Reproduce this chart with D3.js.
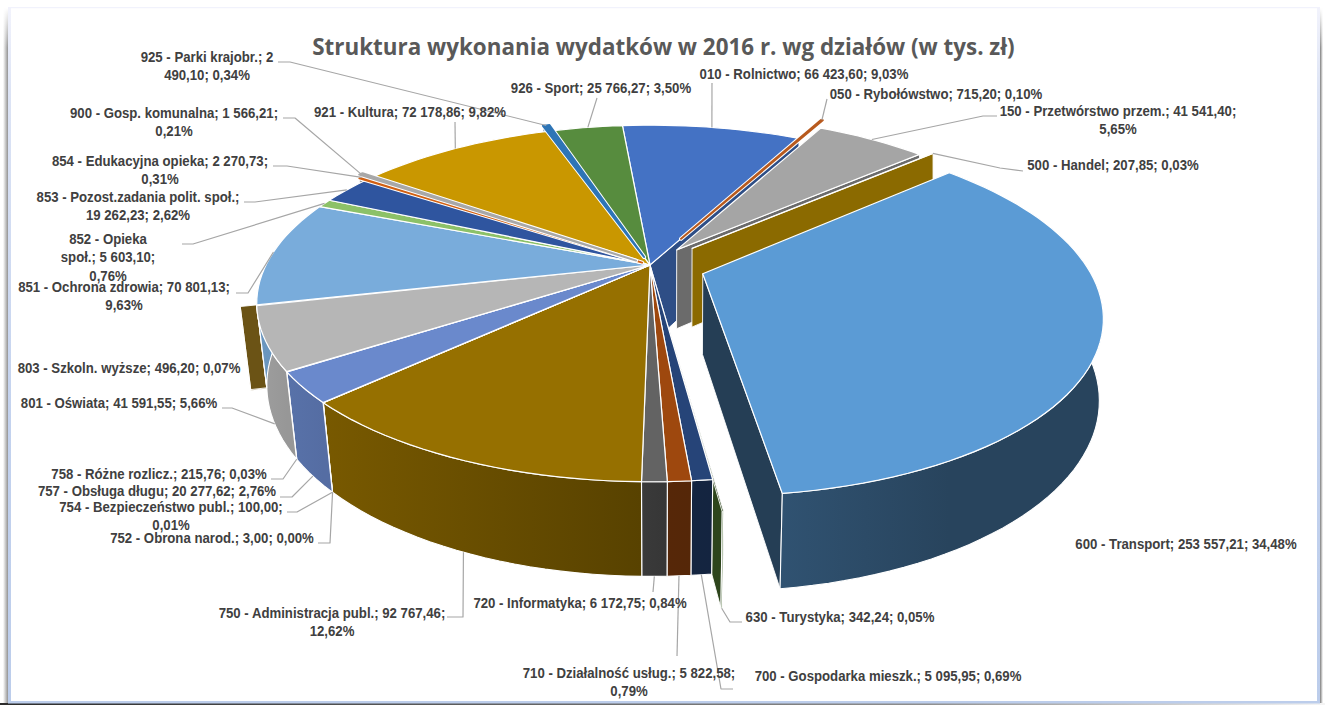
<!DOCTYPE html>
<html><head><meta charset="utf-8">
<script src="https://cdnjs.cloudflare.com/ajax/libs/d3/7.8.5/d3.min.js"></script>
<style>html,body{margin:0;padding:0;background:#fff;overflow:hidden}svg{display:block}</style>
</head><body><svg id="c" width="1325" height="705"></svg>
<script>
const titleText = "Struktura wykonania wydatków w 2016 r. wg działów (w tys. zł)";
const codes = ["010","050","150","500","600","630","700","710","720","750","752","754","757","758","801","803","851","852","853","854","900","921","925","926"];
const values = [66423.60,715.20,41541.40,207.85,253557.21,342.24,5095.95,5822.58,6172.75,92767.46,3.00,100.00,20277.62,215.76,41591.55,496.20,70801.13,5603.10,19262.23,2270.73,1566.21,72178.86,2490.10,25766.27];
const labelLines = [
 ["010 - Rolnictwo; 66 423,60; 9,03%"],
 ["050 - Rybołówstwo; 715,20; 0,10%"],
 ["150 - Przetwórstwo przem.; 41 541,40;","5,65%"],
 ["500 - Handel; 207,85; 0,03%"],
 ["600 - Transport; 253 557,21; 34,48%"],
 ["630 - Turystyka; 342,24; 0,05%"],
 ["700 - Gospodarka mieszk.; 5 095,95; 0,69%"],
 ["710 - Działalność usług.; 5 822,58;","0,79%"],
 ["720 - Informatyka; 6 172,75; 0,84%"],
 ["750 - Administracja publ.; 92 767,46;","12,62%"],
 ["752 - Obrona narod.; 3,00; 0,00%"],
 ["754 - Bezpieczeństwo publ.; 100,00;","0,01%"],
 ["757 - Obsługa długu; 20 277,62; 2,76%"],
 ["758 - Różne rozlicz.; 215,76; 0,03%"],
 ["801 - Oświata; 41 591,55; 5,66%"],
 ["803 - Szkoln. wyższe; 496,20; 0,07%"],
 ["851 - Ochrona zdrowia; 70 801,13;","9,63%"],
 ["852 - Opieka","społ.; 5 603,10;","0,76%"],
 ["853 - Pozost.zadania polit. społ.;","19 262,23; 2,62%"],
 ["854 - Edukacyjna opieka; 2 270,73;","0,31%"],
 ["900 - Gosp. komunalna; 1 566,21;","0,21%"],
 ["921 - Kultura; 72 178,86; 9,82%"],
 ["925 - Parki krajobr.; 2","490,10; 0,34%"],
 ["926 - Sport; 25 766,27; 3,50%"]
];

// ---------- styling and layout, separate from the data ----------
const palette = {"010":"#4472C4","050":"#B85A1E","150":"#A5A5A5","500":"#D6A300","600":"#5B9BD5","630":"#70AD47","700":"#264478","710":"#9E480E","720":"#636363","750":"#967000","752":"#255E91","754":"#43682B","757":"#6A89CC","758":"#F1975A","801":"#B6B6B6","803":"#CFA128","851":"#79ACDB","852":"#8CC168","853":"#2F559F","854":"#D26012","900":"#A8A8A8","921":"#C99700","925":"#2E75B6","926":"#578C3E"};
const explode = {"050":.18,"150":.115,"500":.15,"600":.145,"630":.115,"803":.04,"854":.025,"900":.045,"925":.05};
const thinCodes = ["050","854","900","925"];
const labelLayout = {
 "010":{cx:804,y:79,leader:[[712,83]]},
 "050":{cx:936,y:99,leader:[[827,99]]},
 "150":{cx:1118,y:116,leader:[[997,116],[983,116]]},
 "500":{cx:1113,y:170,leader:[[1023,171],[1000,168]]},
 "600":{cx:1186,y:549},
 "630":{cx:840,y:622,leader:[[742,622],[730,622]],z:1},
 "700":{cx:888,y:681,leader:[[733,689],[721,689]],z:1},
 "710":{cx:629,y:678,leader:[[677,656]],z:1},
 "720":{cx:580,y:608,leader:[[653,592]],z:1},
 "750":{cx:332,y:618,leader:[[447,617],[463,617]],z:1},
 "752":{cx:212,y:543,leader:[[318,543],[330,543]],z:1},
 "754":{cx:171,y:512,leader:[[287,512],[297,512]],z:1},
 "757":{cx:157,y:496,leader:[[280,497],[292,497]],z:1},
 "758":{cx:159,y:479,leader:[[271,479],[283,479]],z:1},
 "801":{cx:119,y:408,leader:[[222,408],[232,408]],z:1},
 "803":{cx:129,y:373},
 "851":{cx:124,y:292,leader:[[236,293],[248,293]]},
 "852":{cx:108,y:244,leader:[[182,244],[193,244]]},
 "853":{cx:138,y:202,leader:[[244,202],[255,202]]},
 "854":{cx:160,y:166,leader:[[273,166],[287,166]]},
 "900":{cx:174,y:118,leader:[[283,118],[295,118]]},
 "921":{cx:410,y:117,leader:[[455,122]]},
 "925":{cx:207,y:62,leader:[[278,62],[290,62]]},
 "926":{cx:601,y:93,leader:[[597,98]]}
};
const lineStep = 18.3, textScale = 0.88;

// ---------- perspective disk ----------
const cx=650, cy=265, R=384, A=170, K=.2157, M=.025, H=82, SKEW=7;
const xS=d3.scaleLinear().domain([-1,1]).range([-R,R]);
const yS=d3.scaleLinear().domain([-1,1]).range([-A,A]);
function proj(u,v,z){ const s=1/(1-K*v+M*z); return [cx+xS(u)*s+SKEW*Math.max(0,u)*z, cy+(yS(v)+H*z)*s]; }

const pie=d3.pie().sort(null).value(d=>d).startAngle(-5*Math.PI/180).endAngle(355*Math.PI/180);
const arcs=pie(values).map((a,i)=>{
  const code=codes[i], e=explode[code]||0, mid=(a.startAngle+a.endAngle)/2;
  return {code,i,a0:a.startAngle,a1:a.endAngle,mid,e,
    ox:Math.sin(mid)*e, oy:-Math.cos(mid)*e, color:palette[code]};
});
const byCode=Object.fromEntries(arcs.map(d=>[d.code,d]));
const P=(d,t,r,z)=>proj(d.ox+Math.sin(t)*r, d.oy-Math.cos(t)*r, z);
function rim(d,z,rev){
  const n=Math.max(2,Math.ceil((d.a1-d.a0)/(Math.PI/90)));
  const ts=d3.range(n+1).map(k=>d.a0+(d.a1-d.a0)*k/n);
  if(rev) ts.reverse();
  return ts.map(t=>P(d,t,1,z));
}
const pathGen=d3.line();
const poly=pts=>pathGen(pts)+"Z";

const svg=d3.select("#c"), defs=svg.append("defs");
const shadeFn=t=>{const u=Math.sin(t); return u<0 ? .58+.3*(-u) : .55-.15*u;};
const dark=(c,f)=>{const q=d3.rgb(c);return d3.rgb(q.r*f,q.g*f,q.b*f).formatHex();};

// frame: soft drop shadow, pale blue border, white panel
function grad(id,dir,stops){
  const g=defs.append("linearGradient").attr("id",id)
    .attr("x1",0).attr("y1",0).attr("x2",dir==="h"?1:0).attr("y2",dir==="h"?0:1);
  stops.forEach(s=>g.append("stop").attr("offset",s[0]).attr("stop-color",s[1]).attr("stop-opacity",s[2]===undefined?1:s[2]));
}
grad("shL","h",[[0,"#fff"],[1,"#7d7d7d"]]);
grad("shR","h",[[0,"#7d7d7d"],[1,"#fff"]]);
grad("fade","v",[[0,"#fff",1],[1,"#fff",0]]);
grad("bdV","v",[[0,"#F2F3FC"],[.12,"#DDE4F5"],[.6,"#C3D2EE"],[1,"#BCCDEB"]]);
grad("btm","h",[[0,"#2c2c2c"],[.7,"#8f8f8f"],[1,"#f4f4f4"]]);
const rect=(x,y,w,h,f)=>svg.append("rect").attr("x",x).attr("y",y).attr("width",w).attr("height",h).attr("fill",f);
rect(3,8,6,695,"url(#shL)");
rect(3,8,6,40,"url(#fade)");
rect(1320,8,3,695,"url(#shR)");
rect(1320,8,3,40,"url(#fade)");
rect(0,703,1325,2,"url(#btm)");
rect(8,7,3,696,"url(#bdV)");
rect(1317,7,3,696,"url(#bdV)");
rect(8,7,1312,1.5,"#F1F2FC");
rect(8,701,1312,2.5,"#BCCDEB");
rect(11,8.5,1306,692.5,"#fff");

const gP=svg.append("g");
function radialWall(d,t){
  const v=-Math.cos(t), f=.55-.15*v;
  gP.append("path").attr("class","wall")
    .attr("d",poly([P(d,t,0,0),P(d,t,1,0),P(d,t,1,1),P(d,t,0,1)]))
    .attr("fill",dark(d.color,f)).attr("stroke","#fff").attr("stroke-width",.9).attr("stroke-linejoin","round");
}
function outerWall(d){
  if(Math.cos(d.a0)>.3 && Math.cos(d.a1)>.3) return;
  const p0=P(d,d.a0,1,0),p1=P(d,d.a1,1,0);
  const id="g"+d.code;
  const g=defs.append("linearGradient").attr("id",id).attr("gradientUnits","userSpaceOnUse")
    .attr("x1",p0[0]).attr("x2",p1[0]).attr("y1",0).attr("y2",0);
  g.append("stop").attr("offset",0).attr("stop-color",dark(d.color,shadeFn(d.a0)));
  g.append("stop").attr("offset",1).attr("stop-color",dark(d.color,shadeFn(d.a1)));
  gP.append("path").attr("class","wall")
    .attr("d",poly(rim(d,0).concat(rim(d,1,true))))
    .attr("fill",`url(#${id})`).attr("stroke","#fff").attr("stroke-width",1.1).attr("stroke-linejoin","round");
}
function topFace(d){
  const thin=thinCodes.includes(d.code), dPath=poly([P(d,d.mid,0,0)].concat(rim(d,0)));
  if(thin) gP.append("path").attr("d",dPath).attr("fill","none").attr("stroke","#fff").attr("stroke-width",4).attr("stroke-linejoin","round");
  gP.append("path").attr("class","top").attr("d",dPath)
    .attr("fill",d.color).attr("stroke",thin?d.color:"#fff").attr("stroke-width",thin?2:1.2).attr("stroke-linejoin","round");
}
const outCodes=["050","150","500","600"], backCodes=["803","630"];
backCodes.forEach(c=>{const d=byCode[c]; radialWall(d,d.a0); radialWall(d,d.a1); outerWall(d);});
const block=arcs.filter(d=>!outCodes.includes(d.code)&&!backCodes.includes(d.code));
block.forEach(d=>{radialWall(d,d.a0);radialWall(d,d.a1);});
block.forEach(outerWall);
block.filter(d=>!thinCodes.includes(d.code)).forEach(topFace);
block.filter(d=>thinCodes.includes(d.code)).forEach(topFace);
outCodes.forEach(c=>{const d=byCode[c]; if(c!=="050") radialWall(d,d.a1); outerWall(d); topFace(d);});

// leaders
const gL=svg.append("g");
codes.forEach(c=>{
  const L=labelLayout[c]; if(!L.leader) return;
  const d=byCode[c], a=P(d,d.mid,1,L.z||0);
  gL.append("path").attr("d",pathGen(L.leader.concat([a]))).attr("fill","none")
    .attr("stroke","#A6A6A6").attr("stroke-width",1.2).attr("stroke-linejoin","round");
});
// labels
const gT=svg.append("g").attr("font-family","'Liberation Sans',Arial,sans-serif").attr("font-size",15).attr("font-weight",700).attr("fill","#404040").attr("text-anchor","middle");
codes.forEach((c,i)=>{
  const L=labelLayout[c];
  labelLines[i].forEach((t,k)=>{
    gT.append("text").attr("transform",`translate(${L.cx},${L.y+k*lineStep}) scale(${textScale},1)`).text(t);
  });
});
svg.append("text").attr("x",663.5).attr("y",55).attr("text-anchor","middle")
  .attr("font-family","'Open Sans',sans-serif").attr("font-weight",700).attr("font-size",22.4).attr("fill","#595959").text(titleText);
</script></body></html>
